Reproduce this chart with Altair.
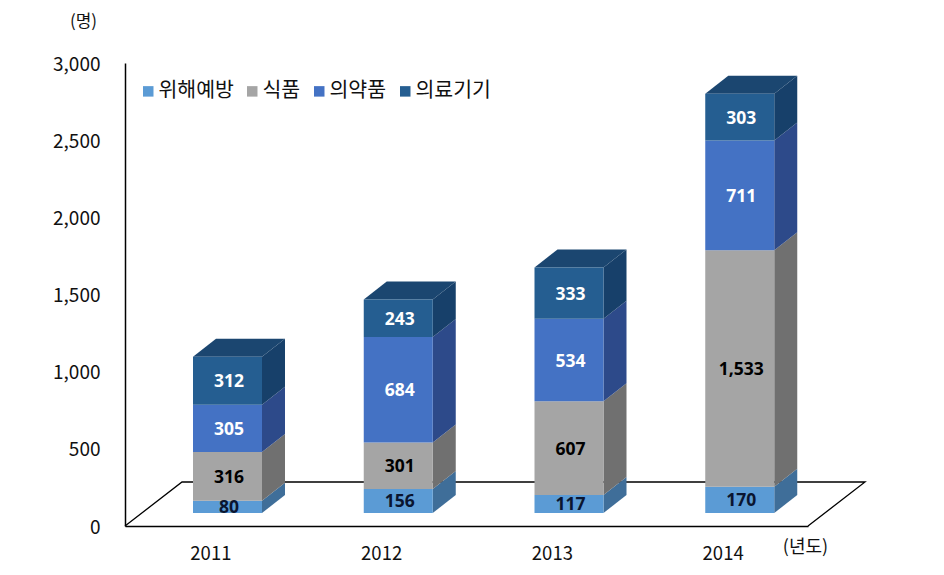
import altair as alt
import pandas as pd

years = [2011, 2012, 2013, 2014]
series = ["위해예방", "식품", "의약품", "의료기기"]
values = {
    "위해예방": [80, 156, 117, 170],
    "식품": [316, 301, 607, 1533],
    "의약품": [305, 684, 534, 711],
    "의료기기": [312, 243, 333, 303],
}
front_colors = ["#5B9BD5", "#A5A5A5", "#4472C4", "#255E91"]
side_colors = ["#3F6E99", "#707070", "#2D4A8A", "#17406A"]
label_colors = ["#0A1530", "#000000", "#FFFFFF", "#FFFFFF"]
top_color = "#1B4670"

# plot geometry: 1 x unit = one year slot, y in data units
W, H = 683, 463
PX, PY = 4.0 / W, 3000.0 / H
bar_off = 68 * PX
bar_w = 69 * PX
dx = 23 * PX
dy = 18 * PY
lift = 13 * PY
floor_dx = 57 * PX
floor_dy = 44 * PY

front, side, top = [], [], []
for i, yr in enumerate(years):
    xl = i + bar_off
    xr = xl + bar_w
    base = lift
    for s, sc, lc in zip(series, side_colors, label_colors):
        v = values[s][i]
        front.append({"xl": xl, "xr": xr, "y0": base, "y1": base + v, "series": s,
                      "xm": (xl + xr) / 2, "ym": base + v / 2, "label": f"{v:,}", "lc": lc})
        key = f"{yr}-{s}"
        side.append({"x": xr, "y0": base, "y1": base + v, "key": key, "c": sc})
        side.append({"x": xr + dx, "y0": base + dy, "y1": base + v + dy, "key": key, "c": sc})
        base += v
    top.append({"y": base, "x0": xl, "x1": xr, "yr": yr})
    top.append({"y": base + dy, "x0": xl + dx, "x1": xr + dx, "yr": yr})

floor = pd.DataFrame({
    "x": [0, floor_dx, 4 + floor_dx, 4],
    "y": [0, floor_dy, floor_dy, 0],
    "o": [0, 1, 2, 3],
})

xs = alt.Scale(domain=[0, 4], nice=False, zero=False)
ys = alt.Scale(domain=[0, 3000], nice=False)

FONT = "Noto Sans CJK KR"

x_axis = alt.Axis(values=[0.5, 1.5, 2.5, 3.5], labelExpr="format(datum.value + 2010.5, 'd')",
                  grid=False, ticks=False, domainColor="#000000", domainWidth=1.5,
                  labelFont=FONT, labelFontSize=18.5, labelColor="#111111", labelPadding=18,
                  labelAngle=0, title="(년도)", titleFont=FONT, titleFontSize=18,
                  titleFontWeight="normal", titleColor="#111111", titleX=680, titleY=21,
                  titleBaseline="middle")
y_axis = alt.Axis(values=[0, 500, 1000, 1500, 2000, 2500, 3000], format=",d",
                  grid=False, ticks=False, domainColor="#000000", domainWidth=1.5,
                  labelFont=FONT, labelFontSize=19, labelColor="#111111", labelPadding=25,
                  labelOffset=1,
                  title="(명)", titleFont=FONT, titleFontSize=17, titleFontWeight="normal",
                  titleColor="#111111", titleAngle=0, titleX=-42, titleY=-42,
                  titleAlign="center", titleBaseline="middle")

floor_l = alt.Chart(floor).mark_line(color="#000000", strokeWidth=1.3, clip=False).encode(
    x=alt.X("x:Q", scale=xs, axis=x_axis),
    y=alt.Y("y:Q", scale=ys, axis=y_axis),
    order="o:Q",
)

side_l = alt.Chart(pd.DataFrame(side)).mark_area(orient="vertical", clip=False).encode(
    x=alt.X("x:Q", scale=xs),
    y=alt.Y("y0:Q", scale=ys),
    y2="y1:Q",
    detail="key:N",
    color=alt.Color("c:N", scale=None, legend=None),
)

top_l = alt.Chart(pd.DataFrame(top)).mark_area(orient="horizontal", color=top_color, clip=False).encode(
    y=alt.Y("y:Q", scale=ys),
    x=alt.X("x0:Q", scale=xs),
    x2="x1:Q",
    detail="yr:N",
)

front_df = pd.DataFrame(front)
front_l = alt.Chart(front_df).mark_rect(clip=False).encode(
    x=alt.X("xl:Q", scale=xs),
    x2="xr:Q",
    y=alt.Y("y0:Q", scale=ys),
    y2="y1:Q",
    color=alt.Color("series:N", scale=alt.Scale(domain=series, range=front_colors),
                    legend=alt.Legend(orient="none", legendX=13, legendY=18, direction="horizontal",
                                      columns=4, title=None, symbolType="square", symbolSize=110,
                                      symbolStrokeWidth=0, labelFont=FONT, labelFontSize=20.5,
                                      labelColor="#111111", columnPadding=8, labelOffset=0,
                                      labelBaseline="middle")),
)

text_l = alt.Chart(front_df).mark_text(font="Open Sans", fontSize=17.5, fontWeight="bold", clip=False,
                                       dx=1.5, dy=1.5).encode(
    x=alt.X("xm:Q", scale=xs),
    y=alt.Y("ym:Q", scale=ys),
    text="label:N",
    color=alt.Color("lc:N", scale=None, legend=None),
)

chart = alt.layer(floor_l, side_l, top_l, front_l, text_l).resolve_scale(color="independent").properties(
    width=W, height=H,
    padding={"left": 117, "top": 55, "right": 100, "bottom": 41},
    autosize=alt.AutoSizeParams(type="none"),
    background="#FFFFFF",
).configure_view(stroke=None)

chart.save("out.html", embed_options={"renderer": "svg", "actions": False})
